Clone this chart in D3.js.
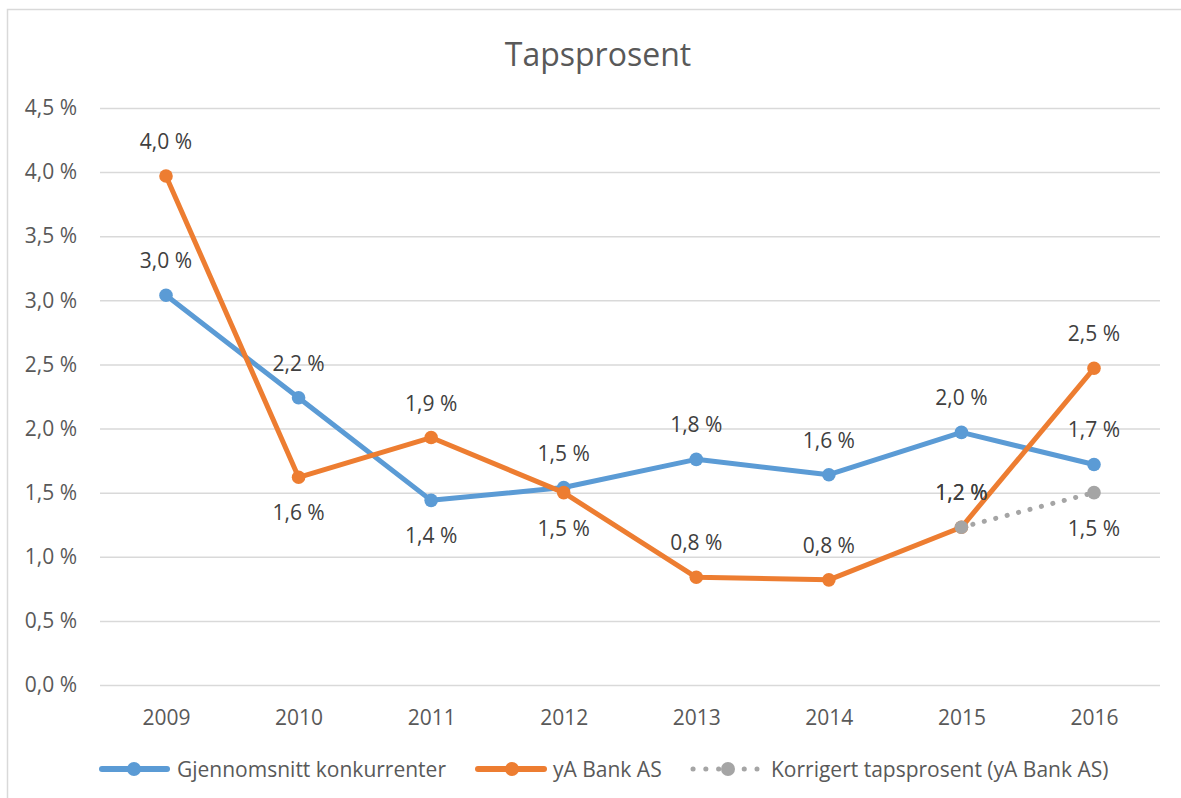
<!DOCTYPE html>
<html><head><meta charset="utf-8">
<script src="https://cdn.jsdelivr.net/npm/d3@7"></script>
<style>body{margin:0;background:#fff}svg{display:block}text{font-family:"Open Sans",sans-serif}</style>
</head><body><svg id="c" width="1181" height="798"></svg>
<script>
const years = ["2009","2010","2011","2012","2013","2014","2015","2016"];
const konkurrenter = [3.04,2.24,1.44,1.54,1.76,1.64,1.97,1.72];
const yaBank = [3.97,1.62,1.93,1.50,0.84,0.82,1.23,2.47];
const korrigertYears = ["2015","2016"];
const korrigert = [1.23,1.50];
const yTicks = [0,0.5,1,1.5,2,2.5,3,3.5,4,4.5];
// label placement: 1 = above, -1 = below
const konkPos = [1,1,-1,1,1,1,1,1];
const bankPos = [1,-1,1,-1,1,1,1,1];
const korrPos = [1,-1];

const FS = 21;
const svg = d3.select("#c");
const fmt = v => d3.format(".1f")(v).replace(".", ",") + " %";
svg.append("rect").attr("x",7.5).attr("y",9.5).attr("width",1190).attr("height",800).attr("fill","#fff").attr("stroke","#d9d9d9").attr("stroke-width",1.5);

const x = d3.scalePoint().domain(years).range([166,1094]);
const y = d3.scaleLinear().domain([0,4.5]).range([685,108]);

svg.append("text").attr("x",598).attr("y",66).attr("text-anchor","middle").attr("font-size",32).attr("fill","#595959").text("Tapsprosent");

const ya = svg.append("g").attr("transform","translate(100,0)")
  .call(d3.axisLeft(y).tickValues(yTicks).tickSize(-1060).tickFormat(fmt));
ya.select(".domain").remove();
ya.selectAll("line").attr("stroke","#d9d9d9").attr("stroke-width",1.5);
ya.selectAll("text").attr("x",-23).attr("font-size",FS).attr("fill","#595959");

const xa = svg.append("g").attr("transform","translate(0,685)")
  .call(d3.axisBottom(x).tickSize(0).tickPadding(25));
xa.select(".domain").remove();
xa.selectAll("text").attr("font-size",FS).attr("fill","#595959");

const line = d3.line().x(d=>x(d[0])).y(d=>y(d[1]));
function series(xs, vals, color, dash, pos){
  const pts = xs.map((k,i)=>[k,vals[i]]);
  svg.append("path").attr("d",line(pts)).attr("fill","none").attr("stroke",color)
    .attr("stroke-width",5).attr("stroke-linecap","round").attr("stroke-linejoin","round")
    .attr("stroke-dasharray",dash?"0.1 11.7":null);
  svg.selectAll(null).data(pts).enter().append("circle")
    .attr("cx",d=>x(d[0])).attr("cy",d=>y(d[1])).attr("r",6.8).attr("fill",color);
  svg.selectAll(null).data(pts).enter().append("text")
    .attr("x",d=>x(d[0])).attr("y",(d,i)=>y(d[1]) + (pos[i]>0?-27:43))
    .attr("text-anchor","middle").attr("font-size",FS).attr("fill","#404040")
    .text(d=>fmt(d[1]));
}
series(years, konkurrenter, "#5B9BD5", false, konkPos);
series(years, yaBank, "#ED7D31", false, bankPos);
series(korrigertYears, korrigert, "#A5A5A5", true, korrPos);

// legend
const leg = [
  {x1:102, x2:167, cx:134, tx:177, label:"Gjennomsnitt konkurrenter", color:"#5B9BD5", dash:false},
  {x1:478, x2:544, cx:512, tx:553, label:"yA Bank AS", color:"#ED7D31", dash:false},
  {x1:693, x2:757, cx:728, tx:771, label:"Korrigert tapsprosent (yA Bank AS)", color:"#A5A5A5", dash:true}
];
const lg = svg.append("g");
leg.forEach(l=>{
  lg.append("line").attr("x1",l.x1).attr("x2",l.x2).attr("y1",769).attr("y2",769)
    .attr("stroke",l.color).attr("stroke-width",l.dash?5:6).attr("stroke-linecap","round")
    .attr("stroke-dasharray",l.dash?"0.1 12.7":null);
  lg.append("circle").attr("cx",l.cx).attr("cy",769).attr("r",7).attr("fill",l.color);
  lg.append("text").attr("x",l.tx).attr("y",776.5).attr("font-size",FS).attr("fill","#595959").text(l.label);
});
</script></body></html>
